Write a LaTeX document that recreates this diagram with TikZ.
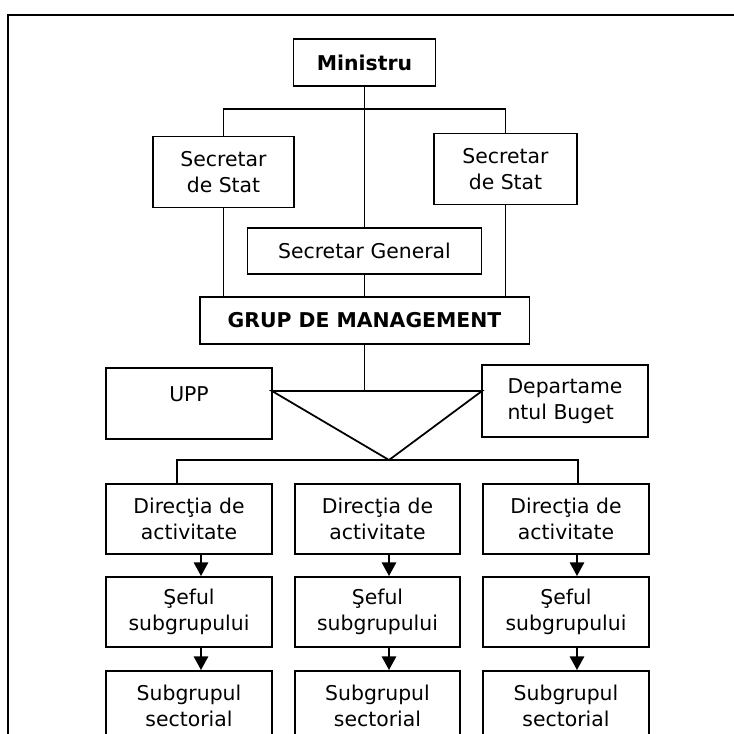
\documentclass[tikz,border=0pt]{standalone}
\usepackage{fontspec}
\setmainfont{DejaVu Sans}
\usetikzlibrary{arrows.meta}

\tikzset{
	org/.style={draw, line width=1.1pt, inner sep=0pt, align=center, font=\fontsize{11.6}{15}\selectfont},
	orgbold/.style={org, font=\fontsize{11.6}{15}\selectfont\bfseries},
	link/.style={line width=1pt},
	down/.style={line width=1pt, -{Triangle[length=7.8pt,width=8.2pt]}}
}

\begin{document}
\begin{tikzpicture}[x=0.02cm, y=-0.02cm]
	\clip (0,0) rectangle (734,734);
	
	\draw[link] (760,15) -- (8,15) -- (8,760);
	
	\node[orgbold, minimum width=2.84cm, minimum height=0.94cm] (min) at (364.5,62.5) {Ministru};
	\node[org, minimum width=2.82cm, minimum height=1.42cm] (ssl) at (223.5,172) {Secretar\\de Stat};
	\node[org, minimum width=2.86cm, minimum height=1.42cm] (ssr) at (505.5,169) {Secretar\\de Stat};
	\node[org, minimum width=4.68cm, minimum height=0.92cm] (sg) at (364.5,251) {Secretar General};
	\node[orgbold, minimum width=6.6cm, minimum height=0.94cm] (grup) at (364.5,320.5) {GRUP DE MANAGEMENT};
	\node[org, minimum width=3.32cm, minimum height=1.42cm] (upp) at (189,403.5) {UPP\\[-4pt]\mbox{}};
	\node[org, align=left, minimum width=3.32cm, minimum height=1.44cm] (buget) at (565,401) {Departame\\ntul Buget};
	
	\node[org, minimum width=3.32cm, minimum height=1.4cm] (dir1) at (189,519) {Direcţia de\\activitate};
	\node[org, minimum width=3.3cm, minimum height=1.4cm] (dir2) at (377.5,519) {Direcţia de\\activitate};
	\node[org, minimum width=3.32cm, minimum height=1.4cm] (dir3) at (566,519) {Direcţia de\\activitate};
	
	\node[org, minimum width=3.32cm, minimum height=1.4cm] (sef1) at (189,612) {Şeful\\subgrupului};
	\node[org, minimum width=3.3cm, minimum height=1.4cm] (sef2) at (377.5,612) {Şeful\\subgrupului};
	\node[org, minimum width=3.32cm, minimum height=1.4cm] (sef3) at (566,612) {Şeful\\subgrupului};
	
	\node[org, minimum width=3.32cm, minimum height=1.4cm] (sub1) at (189,706) {Subgrupul\\sectorial};
	\node[org, minimum width=3.3cm, minimum height=1.4cm] (sub2) at (377.5,706) {Subgrupul\\sectorial};
	\node[org, minimum width=3.32cm, minimum height=1.4cm] (sub3) at (566,706) {Subgrupul\\sectorial};
	
	\coordinate (bar) at (364.5,109);
	\coordinate (tl) at (272,391);
	\coordinate (tr) at (482,391);
	\coordinate (apex) at (389,460);
	\coordinate (bl) at (177,460);
	\coordinate (br) at (578,460);
	
	\draw[link] (min.south) -- (sg.north);
	\draw[link] (ssl.north) |- (bar) -| (ssr.north);
	\draw[link] (ssl.south) -- (ssl.south |- grup.north);
	\draw[link] (ssr.south) -- (ssr.south |- grup.north);
	\draw[link] (sg.south) -- (grup.north);
	\draw[link] (grup.south) -- (grup.south |- tl);
	\draw[link] (tl) -- (tr) -- (apex) -- cycle;
	\draw[link] (dir1.north -| bl) -- (bl) -- (br) -- (dir3.north -| br);
	
	\draw[down] ([xshift=0.24cm]dir1.south) -- ([xshift=0.24cm]sef1.north);
	\draw[down] ([xshift=0.23cm]dir2.south) -- ([xshift=0.23cm]sef2.north);
	\draw[down] ([xshift=0.22cm]dir3.south) -- ([xshift=0.22cm]sef3.north);
	\draw[down] ([xshift=0.24cm]sef1.south) -- ([xshift=0.24cm]sub1.north);
	\draw[down] ([xshift=0.23cm]sef2.south) -- ([xshift=0.23cm]sub2.north);
	\draw[down] ([xshift=0.22cm]sef3.south) -- ([xshift=0.22cm]sub3.north);
\end{tikzpicture}
\end{document}
